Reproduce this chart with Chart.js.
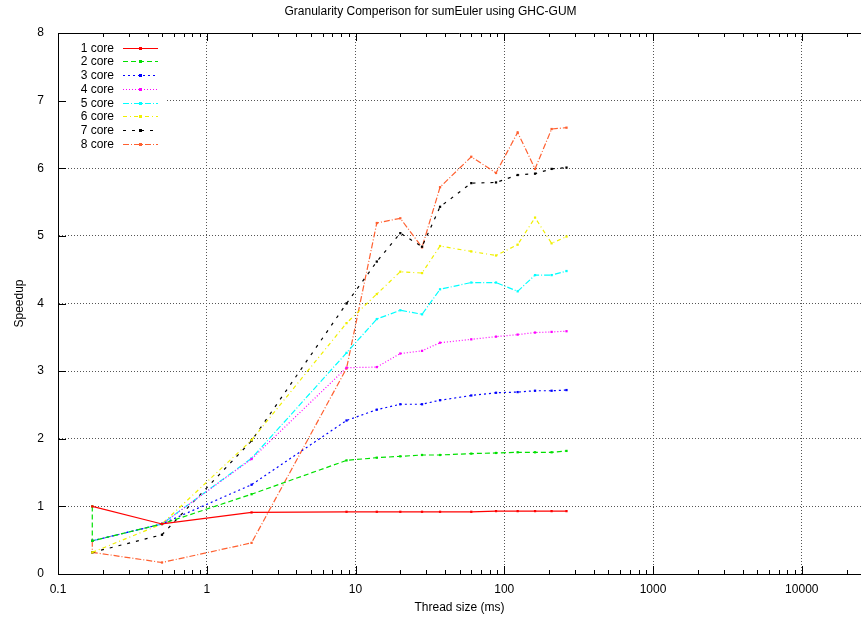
<!DOCTYPE html>
<html><head><meta charset="utf-8">
<script src="https://cdn.jsdelivr.net/npm/chart.js@4.4.1/dist/chart.umd.min.js"></script>
<style>html,body{margin:0;padding:0;background:#fff;overflow:hidden}#wrap{width:861px;height:623px}</style>
</head><body><div id="wrap"><canvas id="c" width="861" height="623"></canvas></div>
<script>
// ---- data ----
const threadSizes = [0.17, 0.5, 2, 8.7, 13.9, 20, 28, 37, 60, 88, 123, 161, 208, 262];
const seriesLabels = ['1 core', '2 core', '3 core', '4 core', '5 core', '6 core', '7 core', '8 core'];
const core1 = [1.00, 0.74, 0.91, 0.92, 0.92, 0.92, 0.92, 0.92, 0.92, 0.93, 0.93, 0.93, 0.93, 0.93];
const core2X = [0.17, 0.17, 0.5, 2, 8.7, 13.9, 20, 28, 37, 60, 88, 123, 161, 208, 262];
const core2 = [1.00, 0.49, 0.74, 1.18, 1.68, 1.72, 1.74, 1.76, 1.76, 1.78, 1.79, 1.80, 1.80, 1.80, 1.82];
const core3 = [0.49, 0.74, 1.32, 2.27, 2.43, 2.51, 2.51, 2.57, 2.64, 2.68, 2.69, 2.71, 2.71, 2.72];
const core4 = [0.49, 0.74, 1.70, 3.05, 3.06, 3.26, 3.30, 3.42, 3.47, 3.51, 3.54, 3.57, 3.58, 3.59];
const core5 = [0.49, 0.74, 1.71, 3.27, 3.77, 3.90, 3.84, 4.21, 4.31, 4.31, 4.18, 4.42, 4.42, 4.48];
const core6 = [0.32, 0.74, 1.98, 3.71, 4.14, 4.47, 4.45, 4.85, 4.77, 4.71, 4.87, 5.27, 4.89, 4.99];
const core7 = [0.32, 0.58, 1.97, 4.00, 4.62, 5.04, 4.84, 5.43, 5.78, 5.79, 5.90, 5.92, 5.99, 6.01];
const core8X = [0.17, 0.17, 0.5, 2, 8.7, 13.9, 20, 28, 37, 60, 88, 123, 161, 208, 262];
const core8 = [0.49, 0.32, 0.17, 0.46, 3.04, 5.19, 5.26, 4.83, 5.72, 6.17, 5.93, 6.53, 5.99, 6.58, 6.60];
const xTickValues = [0.1, 1, 10, 100, 1000, 10000];
const yTickValues = [0, 1, 2, 3, 4, 5, 6, 7, 8];

// ---- styles ----
const colors = ['#ff0000', '#00e000', '#0000ff', '#ff00ff', '#00ffff', '#f0f000', '#000000', '#ff6030'];
const dashes = [[], [5, 3], [2, 3], [1, 2], [6, 2, 1, 2], [4, 3, 1, 3], [3, 6], [6, 2, 1, 2]];
const FONT = '"Liberation Sans", Arial, Helvetica, sans-serif';

const xsFor = [threadSizes, core2X, threadSizes, threadSizes, threadSizes, threadSizes, threadSizes, core8X];
const ysFor = [core1, core2, core3, core4, core5, core6, core7, core8];

const datasets = seriesLabels.map((lab, i) => ({
  label: lab,
  data: ysFor[i].map((y, j) => ({x: xsFor[i][j], y: y})),
  borderColor: colors[i],
  backgroundColor: colors[i],
  borderWidth: 1.2,
  borderDash: dashes[i],
  pointStyle: 'rect',
  pointRadius: 1.6,
  pointBorderWidth: 0,
  pointBackgroundColor: colors[i],
  pointHoverRadius: 1.6,
  tension: 0,
  fill: false
}));

const gnuplotFrame = {
  id: 'gnuplotFrame',
  beforeDatasetsDraw(chart) {
    const {ctx, chartArea: a, scales: {x, y}} = chart;
    ctx.save();
    ctx.fillStyle = '#fff';
    ctx.fillRect(a.left + 1, a.top + 1, 107, 118);
    ctx.strokeStyle = '#000';
    ctx.lineWidth = 1;
    ctx.setLineDash([]);
    ctx.beginPath();
    ctx.moveTo(a.left, Math.round(a.top) + 0.5);
    ctx.lineTo(a.right, Math.round(a.top) + 0.5);
    const maxV = x.max;
    for (let d = 0.1; d <= maxV; d *= 10) {
      for (let k = 1; k <= 9; k++) {
        const v = d * k;
        if (v > maxV * 1.0001) break;
        const px = Math.round(x.getPixelForValue(v)) + 0.5;
        const len = k === 1 ? 8 : 4;
        ctx.moveTo(px, a.bottom); ctx.lineTo(px, a.bottom - len);
        ctx.moveTo(px, a.top); ctx.lineTo(px, a.top + len);
      }
    }
    yTickValues.forEach(v => {
      const py = Math.round(y.getPixelForValue(v)) + 0.5;
      ctx.moveTo(a.left, py); ctx.lineTo(a.left + 8, py);
    });
    ctx.stroke();
    ctx.restore();
  },
  afterDatasetsDraw(chart) {
    const {ctx} = chart;
    ctx.save();
    ctx.font = '12px ' + FONT;
    ctx.textAlign = 'right';
    ctx.textBaseline = 'middle';
    chart.data.datasets.forEach((ds, i) => {
      const yy = Math.round(47.7 + i * 13.7) + 0.5;
      ctx.fillStyle = '#000';
      ctx.fillText(ds.label, 114, yy);
      ctx.strokeStyle = ds.borderColor;
      ctx.lineWidth = 1.2;
      ctx.setLineDash(ds.borderDash);
      ctx.beginPath();
      ctx.moveTo(123, yy); ctx.lineTo(158, yy);
      ctx.stroke();
      ctx.fillStyle = ds.borderColor;
      ctx.fillRect(139, yy - 1.5, 3, 3);
    });
    ctx.restore();
  }
};

new Chart(document.getElementById('c'), {
  type: 'line',
  data: {datasets},
  plugins: [gnuplotFrame],
  options: {
    responsive: false,
    animation: false,
    devicePixelRatio: 1,
    layout: {padding: 0, autoPadding: false},
    plugins: {
      legend: {display: false},
      tooltip: {enabled: false},
      title: {
        display: true,
        text: 'Granularity Comperison for sumEuler using GHC-GUM',
        color: '#000',
        font: {family: FONT, size: 12, weight: 'normal'},
        padding: {top: 4, bottom: 14.6}
      }
    },
    scales: {
      x: {
        type: 'logarithmic',
        min: 0.1,
        max: 25000,
        afterBuildTicks: s => { s.ticks = xTickValues.map(v => ({value: v})); },
        afterFit: s => { s.height = 49; s.paddingRight = 0; s.paddingLeft = 0; },
        ticks: {
          color: '#000',
          font: {family: FONT, size: 12},
          padding: 8,
          autoSkip: false,
          maxRotation: 0,
          callback: v => (v < 1 ? String(v) : String(Math.round(v)))
        },
        grid: {color: '#555', lineWidth: 1, drawTicks: false},
        border: {display: true, color: '#000', width: 1, dash: [1, 2]},
        title: {
          display: true, text: 'Thread size (ms)', color: '#000',
          font: {family: FONT, size: 12}, padding: {top: 0, bottom: 7.8}
        }
      },
      y: {
        type: 'linear',
        min: 0,
        max: 8,
        afterBuildTicks: s => { s.ticks = yTickValues.map(v => ({value: v})); },
        afterFit: s => { s.width = 58; s.paddingTop = 0; s.paddingBottom = 0; },
        ticks: {color: '#000', font: {family: FONT, size: 12}, padding: 14, stepSize: 1},
        grid: {color: '#555', lineWidth: 1, drawTicks: false},
        border: {display: true, color: '#000', width: 1, dash: [1, 2]},
        title: {
          display: true, text: 'Speedup', color: '#000',
          font: {family: FONT, size: 12}, padding: {top: 12, bottom: 0}
        }
      }
    }
  }
});
</script>
</body></html>
